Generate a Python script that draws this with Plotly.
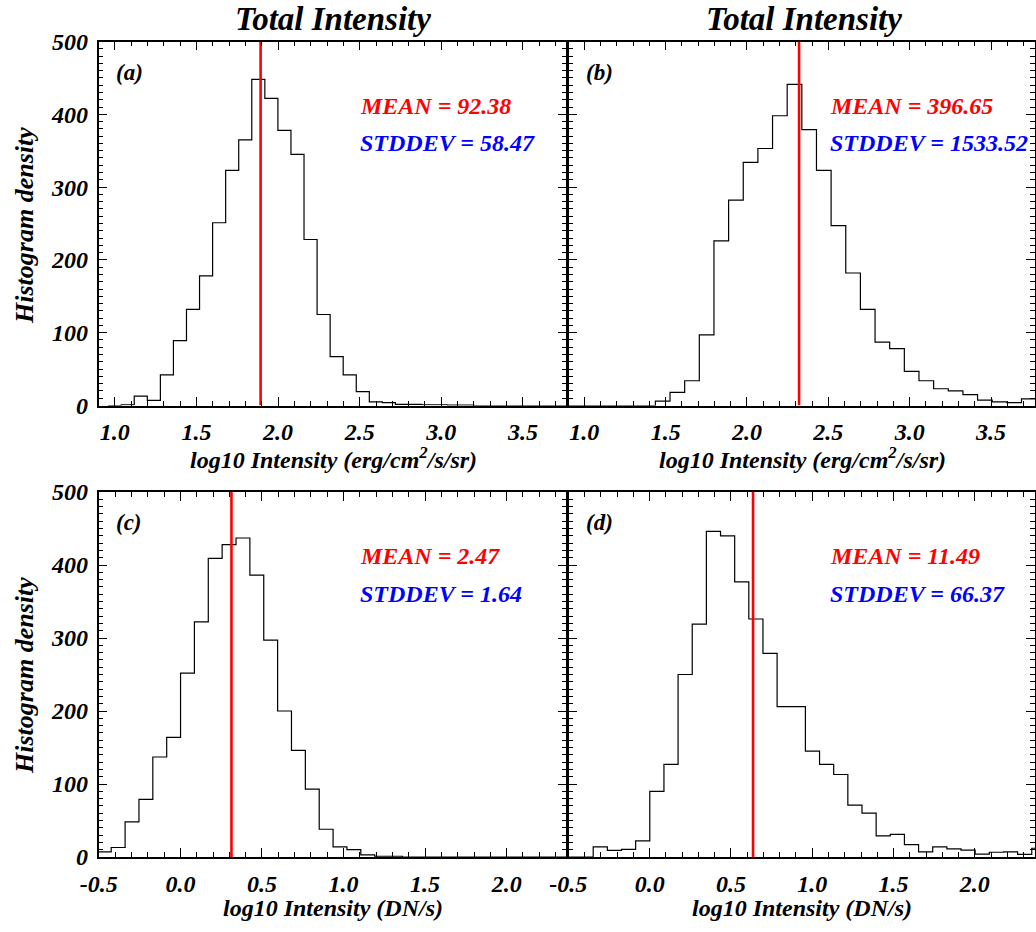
import numpy as np
import plotly.graph_objects as go

# ---------------- data ----------------
# panel (a): log10 total intensity (erg/cm^2/s/sr), histogram bins
a_bin_start = 0.959
a_bin_width = 0.08
a_counts = [0, 1, 13, 7, 42, 89, 132, 178, 251, 323, 365, 448, 422, 378, 345, 228,
            125, 67, 42, 19, 5, 4, 1.5, 1.5, 1, 1, 0.5, 0.5, 0, 0, 0, 0, 0, 0, 0, 0, 0]
a_mean_line = 1.893
a_mean_txt = "MEAN = 92.38"
a_std_txt = "STDDEV = 58.47"

# panel (b)
b_bin_start = 0.807
b_bin_width = 0.09
b_counts = [0, 0, 0, 0, 0, 0, 0, 6, 18, 34, 97, 226, 282, 334, 353, 398, 441, 379, 323,
            247, 182, 132, 87, 78, 47, 34, 23, 20, 15, 7.5, 5, 4, 9]
b_mean_line = 2.32
b_mean_txt = "MEAN = 396.65"
b_std_txt = "STDDEV = 1533.52"

# panel (c): log10 intensity (DN/s)
c_bin_start = -0.509
c_bin_width = 0.085
c_counts = [7, 13, 48, 79, 137, 164, 252, 322, 409, 428, 437, 386, 297, 200, 146, 93,
            38, 14, 10, 3, 1, 1, 0, 0, 0, 0, 0, 0, 0, 0, 0, 0, 0, 0, 0]
c_mean_line = 0.313
c_mean_txt = "MEAN = 2.47"
c_std_txt = "STDDEV = 1.64"

# panel (d)
d_bin_start = -0.521
d_bin_width = 0.087
d_counts = [0, 0, 14, 9, 10.5, 22, 90, 127, 250, 319, 446, 440, 377, 326, 279, 206, 206,
            145, 127, 113, 71, 60, 29, 31, 17, 7, 14, 11, 9.5, 4, 6.5, 7, 3.7, 12]
d_mean_line = 0.636
d_mean_txt = "MEAN = 11.49"
d_std_txt = "STDDEV = 66.37"

top_xticks = [1.0, 1.5, 2.0, 2.5, 3.0, 3.5]
top_xticktext = ["1.0", "1.5", "2.0", "2.5", "3.0", "3.5"]
bot_xticks = [-0.5, 0.0, 0.5, 1.0, 1.5, 2.0]
bot_xticktext = ["-0.5", "0.0", "0.5", "1.0", "1.5", "2.0"]
yticks = [0, 100, 200, 300, 400, 500]
yticktext = ["0", "100", "200", "300", "400", "500"]

panel_labels = ["(a)", "(b)", "(c)", "(d)"]
col_title = "Total Intensity"
ytitle = "Histogram density"
xtitle_top = "log10 Intensity (erg/cm<sup>2</sup>/s/sr)"
xtitle_bot = "log10 Intensity (DN/s)"

# ---------------- layout helpers ----------------
W, H = 1036, 932
FONT = "Liberation Serif"


def fx(px):
    return px / W


def fy(py):
    return 1 - py / H


LEFT = [98.5, 567.0]
RIGHT = [568.0, 1035.0]
TOP = [41.5, 405.5]
BOT = [492.0, 857.0]

fig = go.Figure()

panels = [
    ("x", "y", a_bin_start, a_bin_width, a_counts, a_mean_line),
    ("x2", "y2", b_bin_start, b_bin_width, b_counts, b_mean_line),
    ("x3", "y3", c_bin_start, c_bin_width, c_counts, c_mean_line),
    ("x4", "y4", d_bin_start, d_bin_width, d_counts, d_mean_line),
]

for xa, ya, start, width, counts, mline in panels:
    counts = np.asarray(counts, dtype=float)
    edges = start + width * np.arange(len(counts) + 1)
    ys = np.append(counts, counts[-1])
    fig.add_trace(go.Scatter(x=edges, y=ys, mode="lines", line_shape="hv",
                             line=dict(color="black", width=1.2),
                             xaxis=xa, yaxis=ya, showlegend=False, hoverinfo="skip"))
    fig.add_trace(go.Scatter(x=[mline, mline], y=[0, 500], mode="lines",
                             line=dict(color="#ff0000", width=2.6),
                             xaxis=xa, yaxis=ya, showlegend=False, hoverinfo="skip"))

tickfont = dict(family=FONT, size=24, color="black", weight="bold", style="italic")


def axis_common(minor_dtick):
    return dict(showline=True, linecolor="black", linewidth=1.5, mirror="allticks",
                ticks="inside", ticklen=9, tickwidth=1.4, tickcolor="black",
                showgrid=False, zeroline=False, tickfont=tickfont, automargin=False,
                minor=dict(ticks="inside", ticklen=5, tickwidth=1.1, tickcolor="black",
                           dtick=minor_dtick, tick0=0, showgrid=False))


def xaxis(dom, rng, tv, tt, anchor):
    d = axis_common(0.1)
    d.update(domain=[fx(dom[0]), fx(dom[1])], range=rng, tickmode="array",
             tickvals=tv, ticktext=tt, anchor=anchor, ticklabelstandoff=4)
    return d


def yaxis(dom, anchor, labels):
    d = axis_common(10)
    d.update(domain=[fy(dom[1]), fy(dom[0])], range=[0, 500], tickmode="array",
             tickvals=yticks, ticktext=yticktext, anchor=anchor,
             showticklabels=labels, ticklabelstandoff=4)
    return d


top_rng = [0.9, 3.77]
bot_rng = [-0.502, 2.37]

fig.update_layout(
    template="none",
    width=W, height=H, margin=dict(l=0, r=0, t=0, b=0, autoexpand=False),
    paper_bgcolor="white", plot_bgcolor="white",
    xaxis=xaxis(LEFT, top_rng, top_xticks, top_xticktext, "y"),
    xaxis2=xaxis(RIGHT, top_rng, top_xticks, top_xticktext, "y2"),
    xaxis3=xaxis(LEFT, bot_rng, bot_xticks, bot_xticktext, "y3"),
    xaxis4=xaxis(RIGHT, bot_rng, bot_xticks, bot_xticktext, "y4"),
    yaxis=yaxis(TOP, "x", True),
    yaxis2=yaxis(TOP, "x2", False),
    yaxis3=yaxis(BOT, "x3", True),
    yaxis4=yaxis(BOT, "x4", False),
)

ann = []


def text(t, x, y, size, color="black", xanchor="center", angle=0):
    ann.append(dict(text=t, x=fx(x), y=fy(y), xref="paper", yref="paper",
                    xanchor=xanchor, yanchor="middle", showarrow=False, textangle=angle,
                    font=dict(family=FONT, size=size, color=color, weight="bold",
                              style="italic")))


# column titles
text(col_title, 333, 19, 33)
text(col_title, 804, 19, 33)
# y titles
text(ytitle, 24, 226, 26, angle=-90)
text(ytitle, 24, 676, 26, angle=-90)
# x titles
text(xtitle_top, 333, 458, 24)
text(xtitle_top, 802, 458, 24)
text(xtitle_bot, 333, 908, 24)
text(xtitle_bot, 802, 908, 24)
# panel labels
text(panel_labels[0], 114, 72, 23, xanchor="left")
text(panel_labels[1], 584, 72, 23, xanchor="left")
text(panel_labels[2], 114, 522, 23, xanchor="left")
text(panel_labels[3], 584, 522, 23, xanchor="left")
# stats
text(a_mean_txt, 358, 106, 24, "#ff0000", "left")
text(a_std_txt, 358, 143, 24, "#0000ff", "left")
text(b_mean_txt, 828, 106, 24, "#ff0000", "left")
text(b_std_txt, 828, 143, 24, "#0000ff", "left")
text(c_mean_txt, 358, 556, 24, "#ff0000", "left")
text(c_std_txt, 358, 594, 24, "#0000ff", "left")
text(d_mean_txt, 828, 556, 24, "#ff0000", "left")
text(d_std_txt, 828, 594, 24, "#0000ff", "left")

fig.update_layout(annotations=ann)
fig.write_html("out.html")
